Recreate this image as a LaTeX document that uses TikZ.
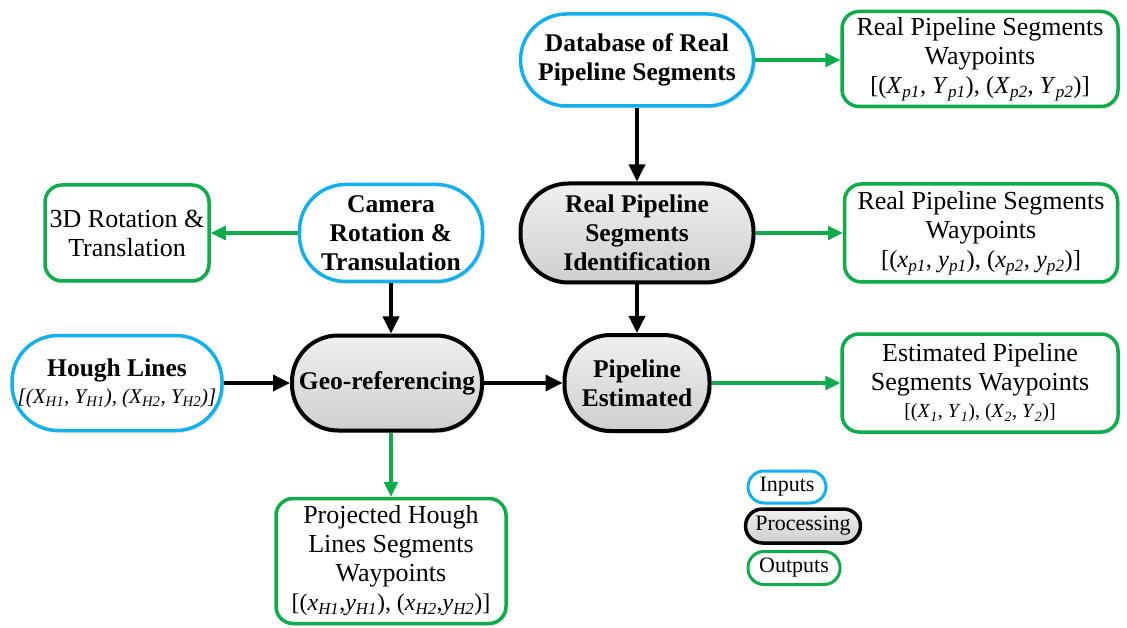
\documentclass[tikz,border=0pt]{standalone}
\usepackage{fontspec}
\setmainfont{Liberation Serif}
\usetikzlibrary{arrows.meta,shadows}
\definecolor{inblue}{RGB}{20,176,236}
\definecolor{outgreen}{RGB}{16,172,76}
\newcommand{\mysb}[1]{\textsubscript{\textit{#1}}}
\newcommand{\fml}{\fontsize{24.5}{29}\selectfont}
\begin{document}
\begin{tikzpicture}[x=1pt,y=-1pt,
  shd/.style={drop shadow={opacity=0.18,shadow xshift=2.5pt,shadow yshift=-2.5pt}},
  inbox/.style={shd,align=center,inner sep=0pt,draw=inblue,line width=3.5pt,fill=white,
     font=\bfseries\fontsize{25.5}{29}\selectfont},
  procbox/.style={shd,align=center,inner sep=0pt,draw=black,line width=4pt,
     top color=gray!12,bottom color=gray!38,
     font=\bfseries\fontsize{25.5}{29}\selectfont},
  outbox/.style={shd,align=center,inner sep=0pt,draw=outgreen,line width=3.5pt,fill=white,
     rounded corners=17pt,font=\fontsize{26}{29}\selectfont},
  blk/.style={line width=3.5pt,black,-{Triangle[length=17pt,width=16pt]}},
  grn/.style={line width=3.2pt,outgreen,-{Triangle[length=15pt,width=14pt]}},
  legfont/.style={font=\fontsize{22}{24}\selectfont,line width=3pt,inner sep=0pt}
]
\useasboundingbox (0,0) rectangle (1127,628);

% inputs
\node[inbox,minimum width=233pt,minimum height=92pt,rounded corners=46pt] (db) at (637,60)
  {Database of Real\\Pipeline Segments};
\node[inbox,minimum width=183pt,minimum height=97pt,rounded corners=46pt] (cam) at (391,233)
  {Camera\\Rotation \&\\Transulation};
\node[inbox,minimum width=210pt,minimum height=95pt,rounded corners=46pt] (hough) at (117,383)
  {Hough Lines\\[-2pt]{\mdseries\itshape\fontsize{21}{24}\selectfont [(X\mysb{H1}, Y\mysb{H1}), (X\mysb{H2}, Y\mysb{H2})]}};

% processing
\node[procbox,minimum width=233pt,minimum height=99pt,rounded corners=48pt] (ident) at (637,233)
  {Real Pipeline\\Segments\\Identification};
\node[procbox,minimum width=190pt,minimum height=95pt,rounded corners=46pt] (geo) at (387,383)
  {Geo-referencing};
\node[procbox,minimum width=145pt,minimum height=96pt,rounded corners=46pt] (pe) at (637,383)
  {Pipeline\\Estimated};

% outputs
\node[outbox,minimum width=276pt,minimum height=95pt] (o1) at (980,59)
  {Real Pipeline Segments\\Waypoints\\{\fml [(\textit{X}\mysb{p1}, \textit{Y}\mysb{p1}), (\textit{X}\mysb{p2}, \textit{Y}\mysb{p2})]}};
\node[outbox,minimum width=273pt,minimum height=98pt] (o2) at (981,233)
  {Real Pipeline Segments\\Waypoints\\{\fml [(\textit{x}\mysb{p1}, \textit{y}\mysb{p1}), (\textit{x}\mysb{p2}, \textit{y}\mysb{p2})]}};
\node[outbox,minimum width=164pt,minimum height=96pt] (rot) at (127,233)
  {3D Rotation \&\\Translation};
\node[outbox,minimum width=276pt,minimum height=98pt] (o3) at (980,383)
  {Estimated Pipeline\\Segments Waypoints\\[-2pt]{\fontsize{20}{24}\selectfont [(\textit{X}\mysb{1}, \textit{Y}\mysb{1}), (\textit{X}\mysb{2}, \textit{Y}\mysb{2})]}};
\node[outbox,minimum width=230pt,minimum height=125pt] (proj) at (391,561)
  {Projected Hough\\Lines Segments\\Waypoints\\{\fontsize{24}{29}\selectfont [(\textit{x}\mysb{H1},\textit{y}\mysb{H1}), (\textit{x}\mysb{H2},\textit{y}\mysb{H2})]}};

% legend
\node[legfont,draw=inblue,fill=white,minimum width=78pt,minimum height=32pt,rounded corners=16pt] (lin) at (787,487) {Inputs};
\node[legfont,draw=black,line width=3.5pt,top color=gray!12,bottom color=gray!38,minimum width=115pt,minimum height=34pt,rounded corners=17pt] (lproc) at (803,526) {Processing};
\node[legfont,draw=outgreen,fill=white,minimum width=92pt,minimum height=33pt,rounded corners=16pt] (lout) at (794,568) {Outputs};

% connectors
\draw[blk] (db) -- (ident);
\draw[blk] (ident) -- (pe);
\draw[blk] (cam.south) -- (cam.south |- geo.north);
\draw[blk] (hough) -- (geo);
\draw[blk] (geo) -- (pe);
\draw[grn] (db) -- (db -| o1.west);
\draw[grn] (ident) -- (ident -| o2.west);
\draw[grn] (cam) -- (cam -| rot.east);
\draw[grn] (pe) -- (pe -| o3.west);
\draw[grn] (proj.north |- geo.south) -- (proj.north);
\end{tikzpicture}
\end{document}
